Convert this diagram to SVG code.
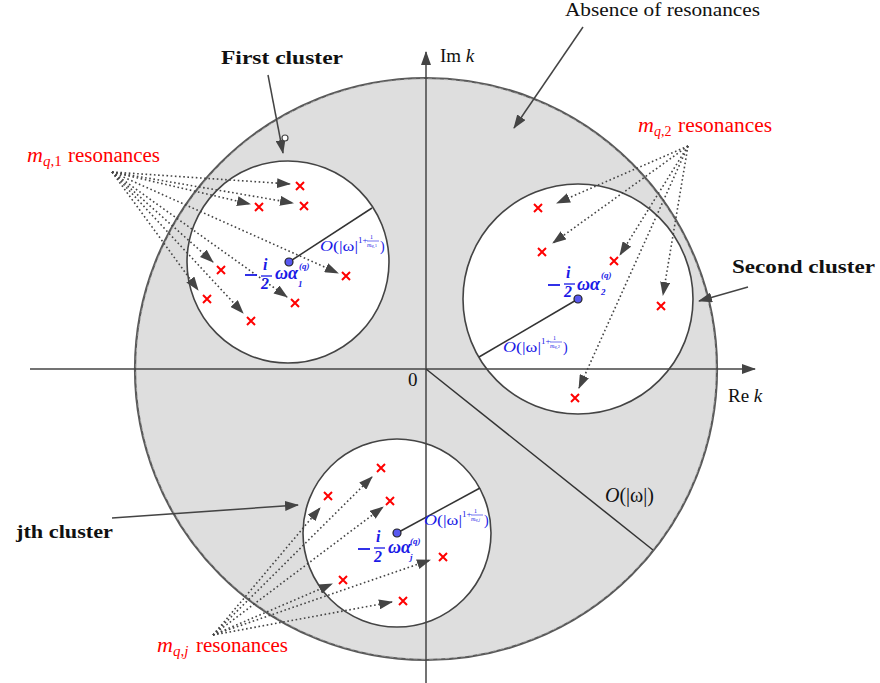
<svg xmlns="http://www.w3.org/2000/svg" width="880" height="683" viewBox="0 0 880 683">
<defs>
<marker id="ah" markerUnits="userSpaceOnUse" markerWidth="14" markerHeight="10" refX="13" refY="5" orient="auto">
<path d="M0,0 L14,5 L0,10 z" fill="#444"/>
</marker>
<style>
.ring{fill:#dedede;stroke:#5a5a5a;stroke-width:2.2}
.ringd{fill:none;stroke:#bbb;stroke-width:0.8;stroke-dasharray:4 4}
.cl{fill:#fff;stroke:#444;stroke-width:1.6}
.ln{stroke:#333;stroke-width:1.5;fill:none}
.arr{stroke:#444;stroke-width:1.5;fill:none;marker-end:url(#ah)}
.dot{stroke:#444;stroke-width:1.6;fill:none;stroke-dasharray:1.6 2.6;marker-end:url(#ah)}
.x{stroke:#f00;stroke-width:2;fill:none}
.t{font-family:"Liberation Serif",serif;fill:#111}
.b{font-family:"Liberation Serif",serif;font-weight:bold;fill:#111}
.r{font-family:"Liberation Serif",serif;fill:#f00}
.bl{font-family:"Liberation Serif",serif;fill:#1a1ae6;font-weight:bold;font-style:italic}
.bo{font-family:"Liberation Serif",serif;fill:#1a1ae6}
.i{font-style:italic}
.c{fill:#5858f0;stroke:#222;stroke-width:1.2}
</style>
</defs>
<g id="region">
<circle class="ring" cx="426" cy="369" r="291"/>
<circle class="ringd" cx="426" cy="369" r="290"/>
</g>
<g id="cluster1">
<circle class="cl" cx="288" cy="262" r="101"/>
</g>
<g id="cluster2">
<circle class="cl" cx="578" cy="299" r="115"/>
</g>
<g id="clusterj">
<circle class="cl" cx="397" cy="533" r="94"/>
</g>
<g id="axes">
<line class="arr" x1="30" y1="369" x2="755" y2="369"/>
<line class="arr" x1="426" y1="683" x2="426" y2="52"/>
<text class="t" x="440" y="62" font-size="19">Im <tspan class="i">k</tspan></text>
<text class="t" x="728" y="402" font-size="19">Re <tspan class="i">k</tspan></text>
<text class="t" x="408" y="386" font-size="19">0</text>
</g>
<g id="radii">
<line class="ln" x1="289" y1="262" x2="372" y2="208"/>
<line class="ln" x1="578" y1="299" x2="479" y2="357"/>
<line class="ln" x1="397" y1="533" x2="480" y2="488"/>
<line class="ln" x1="426" y1="369" x2="653" y2="550"/>
<text class="t" x="605" y="502" font-size="20"><tspan class="i">O</tspan>(|ω|)</text>
</g>
<g id="crosses">
<path class="x" d="M296,182l8,8m0,-8l-8,8 M255,203l8,8m0,-8l-8,8 M300,202l8,8m0,-8l-8,8 M217,266l8,8m0,-8l-8,8 M342,272l8,8m0,-8l-8,8 M203,295l8,8m0,-8l-8,8 M291,299l8,8m0,-8l-8,8 M247,317l8,8m0,-8l-8,8"/>
<path class="x" d="M534,204l8,8m0,-8l-8,8 M538,248l8,8m0,-8l-8,8 M610,257l8,8m0,-8l-8,8 M657,302l8,8m0,-8l-8,8 M571,394l8,8m0,-8l-8,8"/>
<path class="x" d="M377,464l8,8m0,-8l-8,8 M324,492l8,8m0,-8l-8,8 M386,497l8,8m0,-8l-8,8 M439,553l8,8m0,-8l-8,8 M339,576l8,8m0,-8l-8,8 M399,597l8,8m0,-8l-8,8"/>
</g>
<g id="connectors">
<line class="dot" x1="112" y1="172" x2="290" y2="184"/>
<line class="dot" x1="112" y1="172" x2="250" y2="204"/>
<line class="dot" x1="112" y1="172" x2="293" y2="203"/>
<line class="dot" x1="112" y1="172" x2="213" y2="262"/>
<line class="dot" x1="112" y1="172" x2="338" y2="273"/>
<line class="dot" x1="112" y1="172" x2="198" y2="290"/>
<line class="dot" x1="112" y1="172" x2="287" y2="297"/>
<line class="dot" x1="112" y1="172" x2="243" y2="313"/>
<line class="dot" x1="688" y1="146" x2="557" y2="203"/>
<line class="dot" x1="688" y1="146" x2="553" y2="243"/>
<line class="dot" x1="688" y1="146" x2="620" y2="255"/>
<line class="dot" x1="688" y1="146" x2="663" y2="295"/>
<line class="dot" x1="688" y1="146" x2="579" y2="388"/>
<line class="dot" x1="213" y1="635" x2="372" y2="477"/>
<line class="dot" x1="213" y1="635" x2="320" y2="508"/>
<line class="dot" x1="213" y1="635" x2="383" y2="507"/>
<line class="dot" x1="213" y1="635" x2="430" y2="560"/>
<line class="dot" x1="213" y1="635" x2="332" y2="584"/>
<line class="dot" x1="213" y1="635" x2="392" y2="602"/>
<line class="arr" x1="583" y1="27" x2="514" y2="128"/>
<line class="arr" x1="268" y1="75" x2="283" y2="153"/>
<circle cx="285" cy="138" r="3" fill="#fff" stroke="#444" stroke-width="1.2"/>
<line class="arr" x1="748" y1="287" x2="699" y2="301"/>
<line class="arr" x1="112" y1="518" x2="298" y2="505"/>
</g>
<g id="labels">
<text class="t" x="565" y="16" font-size="19" textLength="195" lengthAdjust="spacingAndGlyphs">Absence of resonances</text>
<text class="b" x="221" y="64" font-size="19" textLength="122" lengthAdjust="spacingAndGlyphs">First cluster</text>
<text class="b" x="732" y="273" font-size="19" textLength="143" lengthAdjust="spacingAndGlyphs">Second cluster</text>
<text class="b" x="16" y="538" font-size="19" textLength="97" lengthAdjust="spacingAndGlyphs">jth cluster</text>
<text class="r" x="27" y="162" font-size="22"><tspan class="i">m</tspan><tspan font-size="15" dy="4"><tspan class="i">q</tspan>,1</tspan></text>
<text class="r" x="68" y="162" font-size="20" textLength="92" lengthAdjust="spacingAndGlyphs">resonances</text>
<text class="r" x="638" y="132" font-size="22"><tspan class="i">m</tspan><tspan font-size="14" dy="4"><tspan class="i">q</tspan>,2</tspan></text>
<text class="r" x="678" y="132" font-size="20" textLength="94" lengthAdjust="spacingAndGlyphs">resonances</text>
<text class="r" x="157" y="652" font-size="22"><tspan class="i">m</tspan><tspan font-size="15" dy="4"><tspan class="i">q</tspan>,<tspan class="i">j</tspan></tspan></text>
<text class="r" x="196" y="652" font-size="20" textLength="92" lengthAdjust="spacingAndGlyphs">resonances</text>
</g>
<g id="center1">
<circle class="c" cx="289" cy="262" r="4"/>
<line x1="245" y1="275" x2="257" y2="275" stroke="#1a1ae6" stroke-width="1.8"/>
<text class="bl" x="263" y="270" font-size="16">i</text>
<line x1="261" y1="276" x2="272" y2="276" stroke="#1a1ae6" stroke-width="1.3"/>
<text class="bl" x="261" y="289" font-size="16" font-style="normal">2</text>
<text class="bl" x="275" y="279" font-size="18">ωα</text>
<text class="bl" x="299" y="269" font-size="9" font-style="normal">(<tspan font-style="italic">q</tspan>)</text>
<text class="bl" x="298" y="287" font-size="9" font-style="normal">1</text>
<text class="bo" x="320" y="251" font-size="14" textLength="38" lengthAdjust="spacingAndGlyphs"><tspan class="i">O</tspan>(|ω|</text>
<text class="bo" x="358" y="243" font-size="9">1+</text>
<text class="bo" x="370" y="239" font-size="6">1</text>
<line x1="367" y1="241" x2="379" y2="241" stroke="#1a1ae6" stroke-width="0.6"/>
<text class="bo" x="367" y="247" font-size="6"><tspan class="i">m</tspan><tspan font-size="4.5"><tspan class="i">q</tspan>,1</tspan></text>
<text class="bo" x="380" y="251" font-size="14">)</text>
</g>
<g id="center2">
<circle class="c" cx="578" cy="299" r="4"/>
<line x1="548" y1="285" x2="560" y2="285" stroke="#1a1ae6" stroke-width="1.8"/>
<text class="bl" x="566" y="278" font-size="16">i</text>
<line x1="564" y1="284" x2="575" y2="284" stroke="#1a1ae6" stroke-width="1.3"/>
<text class="bl" x="564" y="297" font-size="16" font-style="normal">2</text>
<text class="bl" x="577" y="290" font-size="18">ωα</text>
<text class="bl" x="601" y="278" font-size="9" font-style="normal">(<tspan font-style="italic">q</tspan>)</text>
<text class="bl" x="601" y="295" font-size="9" font-style="normal">2</text>
<text class="bo" x="503" y="352" font-size="14" textLength="38" lengthAdjust="spacingAndGlyphs"><tspan class="i">O</tspan>(|ω|</text>
<text class="bo" x="541" y="344" font-size="9">1+</text>
<text class="bo" x="553" y="340" font-size="6">1</text>
<line x1="550" y1="342" x2="562" y2="342" stroke="#1a1ae6" stroke-width="0.6"/>
<text class="bo" x="550" y="348" font-size="6"><tspan class="i">m</tspan><tspan font-size="4.5"><tspan class="i">q</tspan>,2</tspan></text>
<text class="bo" x="563" y="352" font-size="14">)</text>
</g>
<g id="centerj">
<circle class="c" cx="397" cy="533" r="4"/>
<line x1="358" y1="549" x2="370" y2="549" stroke="#1a1ae6" stroke-width="1.8"/>
<text class="bl" x="376" y="542" font-size="16">i</text>
<line x1="374" y1="548" x2="385" y2="548" stroke="#1a1ae6" stroke-width="1.3"/>
<text class="bl" x="374" y="562" font-size="16" font-style="normal">2</text>
<text class="bl" x="388" y="553" font-size="18">ωα</text>
<text class="bl" x="410" y="544" font-size="9" font-style="normal">(<tspan font-style="italic">q</tspan>)</text>
<text class="bl" x="410" y="560" font-size="9">j</text>
<text class="bo" x="424" y="525" font-size="14" textLength="38" lengthAdjust="spacingAndGlyphs"><tspan class="i">O</tspan>(|ω|</text>
<text class="bo" x="462" y="517" font-size="9">1+</text>
<text class="bo" x="474" y="513" font-size="6">1</text>
<line x1="471" y1="515" x2="483" y2="515" stroke="#1a1ae6" stroke-width="0.6"/>
<text class="bo" x="471" y="521" font-size="6"><tspan class="i">m</tspan><tspan font-size="4.5"><tspan class="i">q</tspan>,<tspan class="i">j</tspan></tspan></text>
<text class="bo" x="484" y="525" font-size="14">)</text>
</g>
</svg>
